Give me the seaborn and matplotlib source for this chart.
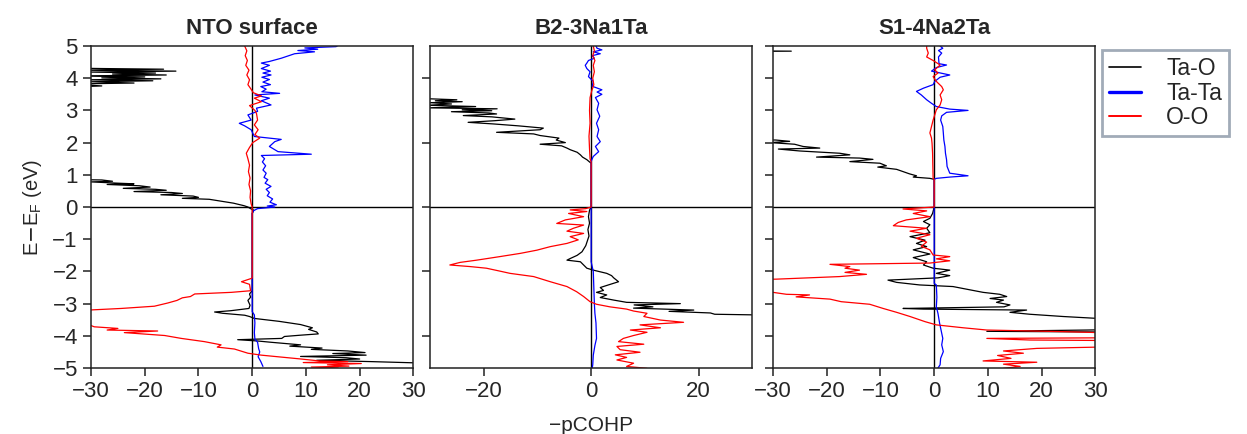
import matplotlib
matplotlib.use("Agg")
import matplotlib.pyplot as plt
from matplotlib.lines import Line2D
import seaborn as sns

# (E - E_F in eV, -pCOHP); +/-45 means off the axis
nto_tao = [(4.34, -45), (4.30, -28), (4.28, -16.5), (4.25, -32), (4.22, -14.2), (4.19, -30), (4.16, -18),
           (4.13, -26), (4.10, -16), (4.07, -33), (4.04, -20), (4.01, -28), (3.98, -17), (3.95, -31),
           (3.92, -18.5), (3.89, -30), (3.85, -22), (3.82, -34), (3.76, -28), (3.72, -35), (3.66, -45),
           (0.88, -45), (0.84, -28), (0.80, -26), (0.78, -30), (0.74, -25), (0.72, -22), (0.70, -27),
           (0.66, -21), (0.62, -19), (0.58, -24), (0.55, -18), (0.52, -16), (0.48, -22), (0.45, -15),
           (0.42, -13), (0.38, -17), (0.34, -11), (0.30, -10), (0.27, -13), (0.24, -8), (0.20, -6.5),
           (0.16, -5), (0.12, -3.5), (0.08, -2.5), (0.04, -1.5), (0.0, -0.8), (-0.05, -0.3), (-0.10, 0.3),
           (-0.20, 0.0), (-2.60, 0.0), (-2.70, -0.5), (-2.80, -0.3), (-2.90, -0.8), (-3.05, -0.4),
           (-3.15, -0.6), (-3.22, -4.0), (-3.26, -7.0), (-3.30, -5.5), (-3.36, -1.4), (-3.40, -0.5),
           (-3.46, 0.4), (-3.55, 5.0), (-3.65, 9.0), (-3.75, 11.2), (-3.80, 10.5), (-3.88, 12.0),
           (-3.94, 12.3), (-3.98, 9.0), (-4.02, 6.0), (-4.08, 5.5), (-4.12, -2.7), (-4.16, 1.0),
           (-4.20, 3.5), (-4.28, 9.0), (-4.32, 7.0), (-4.38, 13.0), (-4.42, 11.0), (-4.47, 17.8),
           (-4.52, 21.0), (-4.55, 15.0), (-4.60, 21.2), (-4.64, 9.0), (-4.68, 17.5), (-4.72, 20.0),
           (-4.76, 12.0), (-4.80, 22.0), (-4.84, 30.5), (-4.86, 45), (-5.05, 45)]
nto_tata = [(5.02, 16.0), (4.98, 15.6), (4.94, 9.8), (4.90, 12.2), (4.86, 8.5), (4.82, 11.6), (4.76, 7.9),
            (4.62, 5.4), (4.52, 3.2), (4.47, 1.7), (4.40, 3.2), (4.30, 1.7), (4.22, 3.4), (4.16, 2.0),
            (4.10, 3.5), (4.03, 1.8), (3.96, 3.2), (3.88, 2.0), (3.80, 3.4), (3.74, 1.6), (3.66, 2.6),
            (3.58, 1.8), (3.53, 5.1), (3.48, 0.5), (3.38, 3.2), (3.30, 1.7), (3.17, 3.5), (3.07, 0.8),
            (2.97, 1.0), (2.86, -0.8), (2.70, -0.2), (2.60, -2.4), (2.52, -1.4), (2.40, -0.2), (2.19, 0.4),
            (2.10, 5.4), (2.03, 4.2), (1.88, 3.2), (1.72, 4.8), (1.64, 11.0), (1.60, 1.7), (1.50, 2.3),
            (1.40, 1.9), (1.28, 2.5), (1.15, 2.0), (1.05, 2.6), (0.92, 2.2), (0.85, 2.9), (0.74, 2.4),
            (0.64, 3.5), (0.55, 2.6), (0.45, 3.2), (0.35, 2.8), (0.25, 3.8), (0.15, 3.3), (0.07, 4.5),
            (0.03, 2.8), (0.0, 4.2), (-0.05, 1.0), (-0.12, 0.2), (-0.2, 0.0), (-3.25, 0.0), (-3.35, 0.4),
            (-3.60, 0.5), (-3.90, 0.4), (-4.10, 0.5), (-4.20, 1.0), (-4.40, 1.2), (-4.50, 1.4),
            (-4.65, 1.1), (-4.80, 1.6), (-4.95, 2.0)]
nto_oo = [(5.0, -1.4), (4.85, -1.0), (4.70, -1.3), (4.55, -0.9), (4.40, -1.2), (4.25, -0.6), (4.10, -1.0),
          (3.95, -0.5), (3.80, -0.8), (3.68, -0.3), (3.55, 0.2), (3.45, 1.7), (3.38, 0.4), (3.27, 1.7),
          (3.15, -0.5), (3.00, 0.5), (2.90, 0.8), (2.70, 1.0), (2.55, 0.4), (2.40, 1.1), (2.25, 0.5),
          (2.14, 1.4), (2.00, 0.1), (1.85, -0.5), (1.67, -1.1), (1.50, -0.8), (1.30, -0.5), (1.10, -0.7),
          (0.90, -0.4), (0.70, -0.6), (0.50, -0.3), (0.30, -0.4), (0.10, -0.2), (0.0, 0.0), (-2.20, 0.0),
          (-2.22, -0.2), (-2.32, -2.0), (-2.40, -0.5), (-2.60, -0.3), (-2.65, -3.9), (-2.70, -10.7),
          (-2.78, -11.5), (-2.82, -13.0), (-2.90, -14.0), (-2.98, -15.7), (-3.08, -18.2), (-3.15, -24.4),
          (-3.20, -30.5), (-3.25, -45), (-3.62, -45), (-3.68, -30), (-3.72, -29.4), (-3.77, -25.0),
          (-3.82, -27), (-3.85, -17.6), (-3.90, -23.8), (-3.99, -16.3), (-4.08, -13.2), (-4.18, -8.9),
          (-4.28, -5.8), (-4.35, -6.5), (-4.41, -3.3), (-4.54, -0.8), (-4.60, 1.7), (-4.66, 5.4),
          (-4.72, 9.1), (-4.78, 12.5), (-4.80, 17.8), (-4.83, 9.5), (-4.86, 20.3), (-4.90, 14.0),
          (-4.94, 18.0), (-4.97, 11.0), (-5.0, 16.0)]

b2_tao = [(3.40, -45), (3.36, -30), (3.33, -25), (3.30, -29), (3.27, -24), (3.24, -30), (3.20, -26),
          (3.16, -30.5), (3.12, -21.5), (3.08, -30.5), (3.05, -17.5), (3.02, -24), (2.99, -18.5),
          (2.96, -26), (2.92, -19), (2.89, -17.6), (2.84, -23.8), (2.80, -18.5), (2.73, -14.2),
          (2.68, -18.0), (2.63, -22.9), (2.58, -18.2), (2.52, -13.5), (2.45, -8.9), (2.40, -9.5),
          (2.32, -17.6), (2.27, -10.7), (2.22, -9.5), (2.14, -6.0), (2.08, -6.5), (2.00, -4.8),
          (1.95, -9.5), (1.90, -5.5), (1.83, -4.5), (1.78, -3.9), (1.70, -2.6), (1.62, -2.0),
          (1.55, -1.6), (1.47, -0.8), (1.40, -0.3), (1.36, 0.0), (0.0, 0.0), (-0.10, -0.3), (-0.30, -0.5),
          (-0.50, -0.3), (-0.70, -0.6), (-0.90, -0.4), (-1.10, -0.8), (-1.20, -1.0), (-1.39, -1.7),
          (-1.50, -2.6), (-1.60, -3.9), (-1.65, -4.5), (-1.70, -2.0), (-1.80, -1.4), (-1.90, -0.8),
          (-1.96, 0.4), (-2.06, 2.9), (-2.13, 3.8), (-2.20, 4.2), (-2.32, 5.1), (-2.42, 3.2),
          (-2.50, 1.7), (-2.59, 2.3), (-2.65, 1.0), (-2.73, 2.9), (-2.81, 1.7), (-2.89, 4.2),
          (-2.96, 6.6), (-3.00, 16.6), (-3.04, 8.0), (-3.10, 11.5), (-3.14, 7.9), (-3.20, 19.1),
          (-3.24, 14.5), (-3.29, 22.2), (-3.33, 23), (-3.35, 30.5), (-3.37, 45), (-5.05, 45)]
b2_tata = [(5.0, 0.9), (4.93, 1.1), (4.88, 2.0), (4.82, 0.4), (4.76, 1.7), (4.70, 0.2), (4.62, 0.6),
           (4.55, -0.5), (4.47, -0.8), (4.40, -1.1), (4.30, -0.8), (4.20, -0.2), (4.05, -0.5), (3.90, 0.4),
           (3.75, 0.2), (3.64, 2.0), (3.57, 1.1), (3.50, 2.0), (3.40, 0.8), (3.22, 1.4), (3.02, 1.1),
           (2.82, 1.6), (2.60, 1.0), (2.40, 1.4), (2.19, 1.1), (2.03, 1.7), (1.88, 0.8), (1.72, 1.4),
           (1.57, 0.4), (1.46, 0.1), (1.40, 0.0), (-1.70, 0.0), (-2.0, 0.4), (-2.5, 0.5), (-3.0, 0.6),
           (-3.3, 0.7), (-3.6, 0.9), (-4.08, 1.0), (-4.3, 0.7), (-4.6, 0.4), (-4.9, 0.3), (-5.0, 0.2)]
b2_oo = [(5.0, 0.4), (4.85, 0.6), (4.70, 0.3), (4.55, 0.7), (4.40, 0.4), (4.20, 0.6), (4.00, 0.3),
         (3.80, 0.5), (3.60, 0.1), (3.40, -0.2), (3.00, -0.3), (2.60, -0.2), (2.20, -0.4), (1.80, -0.3),
         (1.50, -0.2), (1.40, 0.0), (0.0, 0.0), (-0.05, -1.0), (-0.09, -3.9), (-0.14, -0.8), (-0.20, -4.2),
         (-0.30, -1.4), (-0.40, -4.8), (-0.51, -6.4), (-0.56, -1.4), (-0.66, -3.3), (-0.75, -4.5),
         (-0.82, -1.4), (-0.92, -3.9), (-1.02, -2.4), (-1.13, -4.5), (-1.23, -7.6), (-1.34, -10.1),
         (-1.44, -13.2), (-1.54, -17.0), (-1.65, -21.3), (-1.72, -24.4), (-1.80, -26.3), (-1.85, -22.5),
         (-1.90, -19.5), (-1.99, -17.0), (-2.06, -15.1), (-2.16, -10.7), (-2.32, -7.6), (-2.47, -4.5),
         (-2.63, -2.7), (-2.78, -1.4), (-2.94, -0.2), (-3.02, 1.0), (-3.10, 3.5), (-3.17, 6.6),
         (-3.23, 7.9), (-3.30, 10.4), (-3.40, 9.8), (-3.51, 12.9), (-3.58, 17.2), (-3.66, 9.1),
         (-3.75, 12.9), (-3.82, 7.3), (-3.89, 10.4), (-3.99, 7.9), (-4.08, 6.0), (-4.18, 5.1),
         (-4.26, 9.8), (-4.33, 4.8), (-4.43, 5.4), (-4.51, 9.1), (-4.59, 4.5), (-4.67, 6.6),
         (-4.75, 4.8), (-4.85, 7.9), (-4.95, 6.6), (-5.01, 10.4)]

s1_tao = [(4.86, -45), (4.84, -26.6), (4.82, -45), (2.12, -45), (2.08, -29.5), (2.04, -26.9), (2.00, -30.5),
          (1.95, -26.0), (1.88, -24.4), (1.83, -21.3), (1.80, -29.0), (1.74, -25.0), (1.67, -17.6),
          (1.62, -15.7), (1.55, -21.9), (1.52, -13.9), (1.48, -11.4), (1.41, -15.7), (1.36, -10.1),
          (1.28, -8.9), (1.24, -10.5), (1.17, -7.0), (1.10, -5.8), (1.03, -4.6), (0.97, -3.3),
          (0.93, -3.9), (0.89, -0.8), (0.86, 0.0), (0.0, 0.0), (-0.20, -0.3), (-0.35, -0.8), (-0.45, -2.0),
          (-0.55, -0.8), (-0.66, -1.4), (-0.80, -0.8), (-0.92, -4.5), (-1.03, -1.7), (-1.13, -3.3),
          (-1.23, -1.4), (-1.33, -3.9), (-1.46, -0.8), (-1.57, -3.9), (-1.70, -1.4), (-1.80, -2.0),
          (-1.90, -0.2), (-1.96, 2.9), (-2.06, 0.4), (-2.13, 2.9), (-2.20, 0.7), (-2.27, -8.6),
          (-2.34, -7.0), (-2.42, -2.7), (-2.47, 3.5), (-2.57, 6.6), (-2.65, 9.1), (-2.71, 12.2),
          (-2.78, 13.5), (-2.84, 10.4), (-2.89, 12.9), (-2.96, 11.6), (-3.04, 14.1), (-3.10, 13.0),
          (-3.15, -5.8), (-3.17, -2.0), (-3.20, 17.2), (-3.27, 14.1), (-3.33, 17.8), (-3.40, 24.0),
          (-3.46, 30.5), (-3.50, 45), (-3.77, 45), (-3.82, 28.5), (-3.86, 9.8), (-3.88, 30.5),
          (-3.90, 45), (-5.05, 45)]
s1_tata = [(5.0, 1.1), (4.93, 1.6), (4.86, 0.8), (4.78, 1.4), (4.66, 0.8), (4.45, 0.9), (4.41, 2.3),
           (4.33, 0.4), (4.22, -0.5), (4.10, 2.9), (4.03, 1.1), (3.90, 0.1), (3.80, -0.2), (3.69, -2.0),
           (3.59, -3.3), (3.48, -2.4), (3.33, -1.4), (3.22, -0.5), (3.12, 0.4), (3.04, 2.9), (3.00, 6.3),
           (2.94, 2.3), (2.83, 1.4), (2.70, 1.2), (2.50, 1.6), (2.30, 1.7), (2.08, 1.8), (1.88, 2.0),
           (1.67, 2.1), (1.47, 2.3), (1.26, 2.4), (1.05, 2.9), (0.97, 6.3), (0.93, 2.9), (0.89, 0.4),
           (0.86, 0.0), (-2.37, 0.0), (-2.42, 0.4), (-2.80, 0.5), (-3.10, 0.4), (-3.30, 0.7), (-3.60, 1.0),
           (-3.92, 1.4), (-4.08, 1.6), (-4.28, 1.4), (-4.49, 1.7), (-4.70, 1.2), (-4.90, 1.1), (-5.0, 0.7)]
s1_oo = [(5.0, -1.4), (4.93, -1.4), (4.78, -1.1), (4.66, -1.4), (4.55, -0.2), (4.41, 1.1), (4.26, 0.1),
         (4.16, 0.7), (4.05, -0.2), (3.90, 0.4), (3.74, 1.4), (3.64, 1.7), (3.48, 1.1), (3.33, 1.4),
         (3.17, 1.1), (3.02, 0.4), (2.86, 0.1), (2.70, -0.2), (2.50, -0.5), (2.30, -0.8), (2.14, -0.5),
         (1.98, -0.4), (1.67, -0.3), (1.26, -0.25), (0.89, -0.2), (0.86, 0.0), (0.0, 0.0), (-0.06, -5.8),
         (-0.12, -1.4), (-0.20, -3.9), (-0.30, -0.8), (-0.40, -5.2), (-0.48, -6.7), (-0.58, -7.6),
         (-0.66, -1.4), (-0.75, -4.5), (-0.86, -0.8), (-0.97, -3.3), (-1.09, -1.4), (-1.22, -2.4),
         (-1.33, -0.8), (-1.49, -0.2), (-1.54, 2.9), (-1.61, 0.4), (-1.67, 2.9), (-1.74, -0.8),
         (-1.78, -19.4), (-1.85, -15.7), (-1.90, -16.6), (-1.96, -13.9), (-2.03, -16.6), (-2.09, -12.6),
         (-2.16, -17.6), (-2.24, -29.4), (-2.28, -45), (-2.62, -45), (-2.65, -30), (-2.71, -27.5),
         (-2.73, -23.2), (-2.79, -25.7), (-2.86, -19.4), (-2.94, -17.3), (-3.02, -12.0), (-3.15, -9.5),
         (-3.27, -7.0), (-3.40, -4.5), (-3.56, -1.7), (-3.66, 0.4), (-3.75, 5.4), (-3.82, 9.8),
         (-3.87, 24.0), (-3.90, 30.5), (-3.95, 45), (-4.05, 45), (-4.08, 9.8), (-4.13, 17.8),
         (-4.16, 45), (-4.28, 45), (-4.35, 30.5), (-4.39, 19.1), (-4.47, 12.9), (-4.54, 16.6),
         (-4.61, 11.8), (-4.70, 14.3), (-4.78, 9.1), (-4.82, 19.1), (-4.88, 12.9), (-4.95, 16.0),
         (-5.01, 12.9)]

titles = ["NTO surface", "B2-3Na1Ta", "S1-4Na2Ta"]
bond_labels = ["Ta-O", "Ta-Ta", "O-O"]
bond_colors = ["black", "blue", "red"]
panels = [(nto_tao, nto_tata, nto_oo), (b2_tao, b2_tata, b2_oo), (s1_tao, s1_tata, s1_oo)]

sns.set_theme(style="ticks")
plt.rcParams["font.family"] = ["Liberation Sans", "DejaVu Sans"]
plt.rcParams["axes.unicode_minus"] = True

fig = plt.figure(figsize=(12.47, 4.34), dpi=100)
lefts = [0.073, 0.3448, 0.6199]
axes = [fig.add_axes([l, 0.152, 0.2585, 0.742]) for l in lefts]

for ax, title, series in zip(axes, titles, panels):
    ax.axhline(0, color="black", lw=1.0, zorder=1)
    ax.axvline(0, color="black", lw=1.0, zorder=1)
    for pts, col in zip(series, bond_colors):
        e = [p[0] for p in pts]
        x = [p[1] for p in pts]
        sns.lineplot(x=x, y=e, ax=ax, color=col, lw=0.9, sort=False,
                     estimator=None, legend=False, zorder=2)
    ax.set_xlim(-30, 30)
    ax.set_ylim(-5, 5)
    ax.set_title(title, fontsize=16, fontweight="bold", pad=9)
    ax.set_xlabel("")
    ax.set_ylabel("")
    for s in ax.spines.values():
        s.set_visible(True)
        s.set_linewidth(1.1)
        s.set_color("#222222")
    ax.tick_params(direction="out", length=6, width=1.1, labelsize=16, color="#222222")

axes[0].set_xticks(range(-30, 31, 10))
axes[0].set_yticks(range(-5, 6))
axes[0].set_ylabel(r"E$-$E$_\mathregular{F}$ (eV)", fontsize=14.5, labelpad=6)
axes[1].set_xticks([-20, 0, 20])
axes[1].set_yticks([-4, -2, 0, 2, 4])
axes[1].set_yticklabels([])
axes[1].set_xlabel("\u2212pCOHP", fontsize=15, labelpad=10)
axes[2].set_xticks(range(-30, 31, 10))
axes[2].set_yticks(range(-5, 6))
axes[2].set_yticklabels([])

# legend sits outside, right of the last panel
handles = [Line2D([], [], color="black", lw=1.2),
           Line2D([], [], color="blue", lw=2.4),
           Line2D([], [], color="red", lw=1.4)]
leg = fig.legend(handles, bond_labels, loc="upper left", bbox_to_anchor=(0.8837, 0.885),
                 borderaxespad=0, fontsize=16.5, frameon=True, fancybox=False, handlelength=1.4,
                 handletextpad=1.1, labelspacing=0.08, borderpad=0.3)
leg.get_frame().set_edgecolor("#8a96a6")
leg.get_frame().set_linewidth(2)

fig.savefig("out.png", dpi=100)
